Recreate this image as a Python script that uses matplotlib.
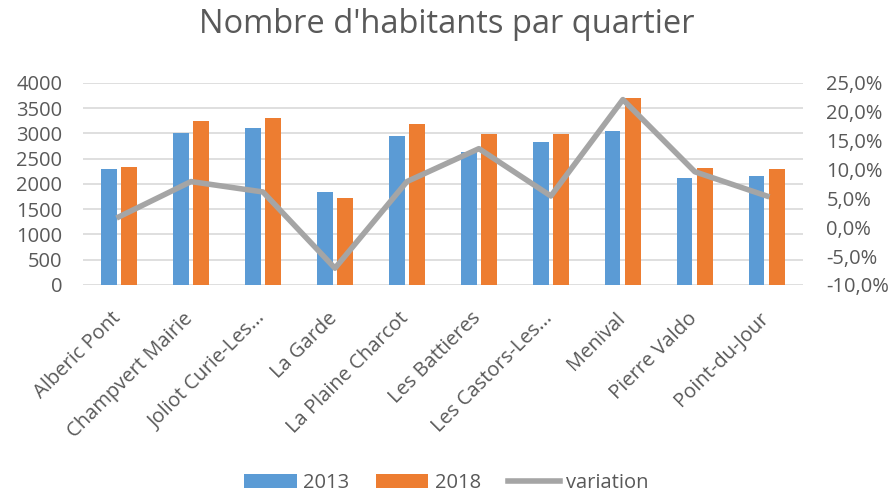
import matplotlib.pyplot as plt
import numpy as np
from matplotlib.ticker import FuncFormatter
import matplotlib.transforms as mtransforms

plt.rcParams['font.family'] = ['Open Sans', 'DejaVu Sans']

categories = ["Alberic Pont", "Champvert Mairie", "Joliot Curie-Les...", "La Garde",
              "La Plaine Charcot", "Les Battieres", "Les Castors-Les...", "Menival",
              "Pierre Valdo", "Point-du-Jour"]
pop_2013 = [2288, 3005, 3105, 1839, 2946, 2636, 2828, 3045, 2109, 2162]
pop_2018 = [2333, 3237, 3296, 1714, 3183, 2992, 2979, 3704, 2307, 2288]
variation = [1.8, 7.9, 6.1, -7.1, 7.9, 13.6, 5.4, 22.1, 9.6, 5.4]

blue = '#5B9BD5'
orange = '#ED7D31'
grey = '#A5A5A5'
text_c = '#595959'
fs = 14.5

fig = plt.figure(figsize=(8.93, 4.93), dpi=100)
ax = fig.add_axes([0.093, 0.422, 0.806, 0.41])
x = np.arange(len(categories))
w = 0.22
off = 0.143
ax.bar(x - off, pop_2013, w, color=blue, label='2013', zorder=2)
ax.bar(x + off, pop_2018, w, color=orange, label='2018', zorder=2)
ax.set_xlim(-0.5, len(categories) - 0.5)
ax.set_ylim(0, 4000)
ax.set_yticks(np.arange(0, 4001, 500))
ax.grid(axis='y', color='#D9D9D9', linewidth=1.2, zorder=0)
ax.set_axisbelow(True)
for s in ax.spines.values():
    s.set_visible(False)
ax.tick_params(axis='y', length=0, labelsize=fs, colors=text_c, pad=15)
ax.tick_params(axis='x', length=0, labelsize=fs, colors=text_c, pad=4)
ax.set_xticks(x)
ax.set_xticklabels(categories, rotation=45, ha='right', rotation_mode='anchor')
shift = mtransforms.ScaledTranslation(-8 / 100, -18 / 100, fig.dpi_scale_trans)
for lab in ax.get_xticklabels():
    lab.set_transform(lab.get_transform() + shift)

ax2 = ax.twinx()
ax2.plot(x, variation, color=grey, linewidth=4, label='variation', zorder=3,
         solid_joinstyle='round')
ax2.set_ylim(-10, 25)
ax2.set_yticks(np.arange(-10, 26, 5))
ax2.yaxis.set_major_formatter(FuncFormatter(lambda v, p: f"{v:.1f}%".replace('.', ',')))
for s in ax2.spines.values():
    s.set_visible(False)
ax2.tick_params(axis='y', length=0, labelsize=fs, colors=text_c, pad=17)

fig.text(0.5, 1 - 33 / 493, "Nombre d'habitants par quartier", ha='center', va='baseline',
         fontsize=23.5, color=text_c)

h1, l1 = ax.get_legend_handles_labels()
h2, l2 = ax2.get_legend_handles_labels()
fig.legend(h1 + h2, l1 + l2, loc='center', bbox_to_anchor=(0.5, 0.021), ncol=3,
           frameon=False, fontsize=fs, labelcolor=text_c, handlelength=2.6,
           handletextpad=0.3, columnspacing=1.35, borderpad=0)

fig.savefig('out.png', dpi=100)
